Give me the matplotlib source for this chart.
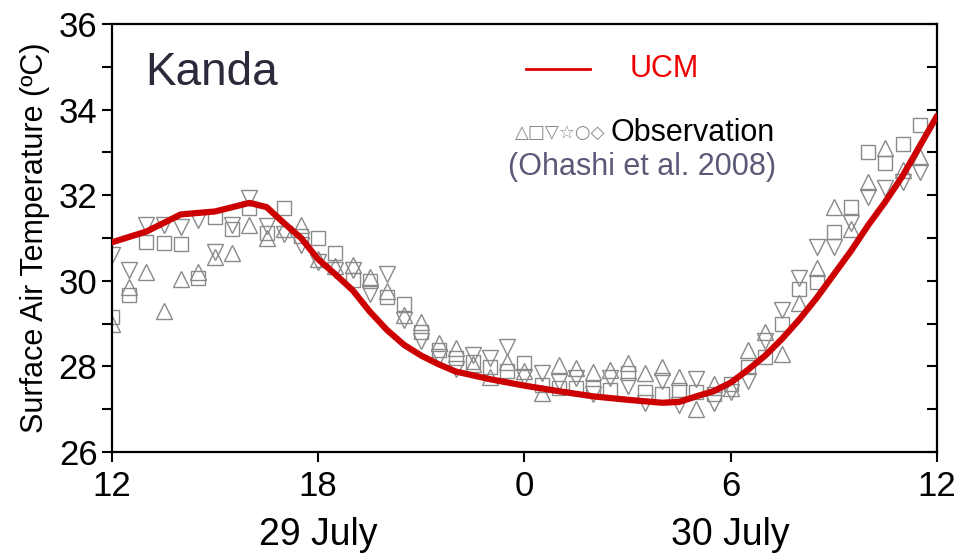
import numpy as np
import matplotlib.pyplot as plt

# half-hourly observation times, hours after 12:00 on 29 July
obs_hours = np.arange(0, 24, 0.5)
obs_up = [29.0, 29.85, 30.2, 29.3, 30.05, 30.2, 30.55, 30.65, 31.3, 31.0,
          31.2, 31.3, 30.5, 30.35, 30.37, 30.1, 29.75, 29.2, 29.04, 28.55,
          28.43, 28.05, 27.75, 28.1, 27.9, 27.38, 28.03, 27.96, 27.87, 27.92,
          28.08, 27.85, 27.98, 27.75, 27.0, 27.6, 27.5, 28.38, 28.8, 28.3,
          29.48, 30.3, 31.72, 31.2, 32.3, 33.1, 32.6, 32.9]
obs_square = [29.15, 29.67, 30.9, 30.88, 30.85, 30.07, 31.49, 31.2, 31.7, 31.12,
              31.7, 31.05, 31.0, 30.65, 30.02, 30.0, 29.62, 29.45, 28.8, 28.38,
              28.2, 28.1, 27.99, 27.9, 28.08, 27.57, 27.5, 27.5, 27.5, 27.45,
              27.85, 27.4, 27.35, 27.45, 27.4, 27.35, 27.6, 27.99, 28.22, 29.0,
              29.8, 29.97, 31.14, 31.72, 33.0, 32.75, 33.2, 33.64]
obs_down = [30.6, 30.25, 31.3, 31.3, 31.25, 31.42, 30.67, 31.3, 31.93, 31.28,
            31.1, 30.84, 30.44, 30.25, 30.25, 29.7, 30.15, 29.08, 28.6, 28.22,
            27.95, 28.27, 28.2, 28.45, 27.75, 27.85, 27.63, 27.73, 27.35, 27.73,
            27.55, 27.15, 27.65, 27.1, 27.7, 27.15, 27.4, 27.65, 28.6, 29.32,
            30.07, 30.8, 30.8, 31.35, 31.96, 32.17, 32.3, 32.55]

ucm_hours = [0, 1, 2, 3, 4, 4.5, 5, 5.5, 6, 6.5, 7, 7.5, 8, 8.5, 9, 9.5, 10,
             11, 12, 13, 14, 15, 16, 16.5, 17, 17.5, 18, 18.5, 19, 19.5, 20,
             20.5, 21, 21.5, 22, 22.5, 23, 23.5, 24]
ucm_temp = [30.9, 31.15, 31.55, 31.62, 31.82, 31.72, 31.35, 31.0, 30.5, 30.15,
            29.78, 29.28, 28.85, 28.5, 28.25, 28.05, 27.88, 27.7, 27.55, 27.42,
            27.3, 27.22, 27.15, 27.17, 27.3, 27.42, 27.62, 27.92, 28.25, 28.65,
            29.1, 29.6, 30.15, 30.7, 31.3, 31.85, 32.45, 33.15, 33.85]

xtick_pos = [0, 6, 12, 18, 24]
xtick_labels = ['12', '18', '0', '6', '12']

plt.rcParams['font.family'] = ['Liberation Sans', 'DejaVu Sans']

fig = plt.figure(figsize=(9.63, 5.55), dpi=100)
ax = fig.add_axes([0.1163, 0.1856, 0.8567, 0.7712])

gray = '#8a8a8a'
ax.plot(obs_hours, obs_up, linestyle='none', marker='^', ms=11.5, mfc='none', mec=gray, mew=1)
ax.plot(obs_hours, obs_square, linestyle='none', marker='s', ms=10.5, mfc='none', mec=gray, mew=1)
ax.plot(obs_hours, obs_down, linestyle='none', marker='v', ms=11.5, mfc='none', mec=gray, mew=1)
ax.plot(ucm_hours, ucm_temp, color='#cc0000', lw=4.5, solid_capstyle='round', zorder=5)

ax.set_xlim(0, 24)
ax.set_ylim(26, 36)
ax.set_xticks(xtick_pos)
ax.set_xticklabels(xtick_labels)
ax.set_yticks(range(26, 37, 2))
ax.set_yticks(range(27, 36, 2), minor=True)
ax.tick_params(axis='both', labelsize=25, width=1.5, length=7, direction='out')
ax.tick_params(axis='x', pad=6)
ax.tick_params(axis='y', which='minor', width=1.5, length=7, direction='out')
ax.yaxis.set_tick_params(which='both', right=True, labelright=False)
for t in ax.yaxis.get_major_ticks() + ax.yaxis.get_minor_ticks():
    t.tick2line.set_marker(0)
for s in ax.spines.values():
    s.set_linewidth(1.6)

ax.set_ylabel('Surface Air Temperature (ºC)', fontsize=22, labelpad=6)

fig.text(318 / 963, 1 - 535 / 555, '29 July', fontsize=27, ha='center', va='center')
fig.text(730 / 963, 1 - 535 / 555, '30 July', fontsize=27, ha='center', va='center')

ax.text(0.04, 0.885, 'Kanda', transform=ax.transAxes, fontsize=33, color='#2a2a3a', va='center')
ax.plot([0.502, 0.58], [0.895, 0.895], transform=ax.transAxes, color='#dd0000', lw=2)
ax.text(0.628, 0.895, 'UCM', transform=ax.transAxes, fontsize=22, color='#ee0000', va='center')
ax.text(0.488, 0.745, '△□▽☆○◇', transform=ax.transAxes, fontsize=13, color=gray,
        va='center', family=['DejaVu Sans'])
ax.text(0.604, 0.745, 'Observation', transform=ax.transAxes, fontsize=22, color='black', va='center')
ax.text(0.48, 0.665, '(Ohashi et al. 2008)', transform=ax.transAxes, fontsize=22,
        color='#5a5a78', va='center')

plt.savefig('out.png', dpi=100)
